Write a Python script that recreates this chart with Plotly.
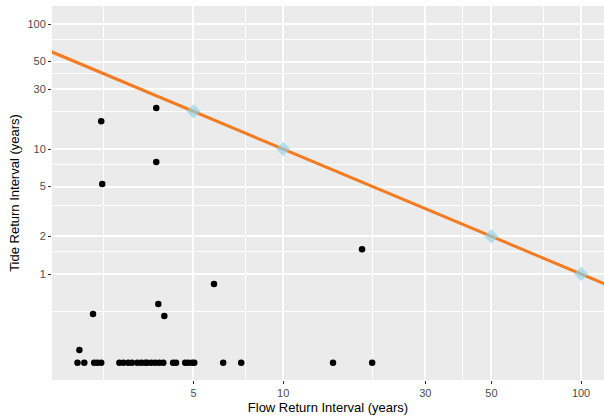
import plotly.graph_objects as go

# Observed events (flow return interval, tide return interval), years
flow_years = [2.45, 2.47, 3.75, 3.75, 18.4, 5.86, 2.07, 2.30, 3.81, 3.99,
              2.04, 2.15, 2.32, 2.38, 2.45, 2.82, 2.91, 3.02, 3.11, 3.24,
              3.34, 3.44, 3.50, 3.61, 3.72, 3.84, 3.96, 4.27, 4.37, 4.69,
              4.80, 4.95, 5.03, 6.29, 7.23, 14.7, 19.9]
tide_years = [16.7, 5.25, 21.3, 7.87, 1.58, 0.83, 0.247, 0.479, 0.575, 0.461,
              0.195, 0.195, 0.195, 0.195, 0.195, 0.195, 0.195, 0.195, 0.195, 0.195,
              0.195, 0.195, 0.195, 0.195, 0.195, 0.195, 0.195, 0.195, 0.195, 0.195,
              0.195, 0.195, 0.195, 0.195, 0.195, 0.195, 0.195]

# Joint-probability reference points (diamonds) and the curve through them
ref_flow = [5, 10, 50, 100]
ref_tide = [20, 10, 2, 1]
joint_constant = 100  # tide * flow = constant
line_flow = [1, 200]
line_tide = [joint_constant / f for f in line_flow]

x_ticks = [5, 10, 30, 50, 100]
x_minor = [2.5, 7.5, 20, 40, 75]
y_ticks = [1, 2, 5, 10, 30, 50, 100]
y_minor = [0.5, 1.5, 3.5, 7.5, 20, 40, 75]

fig = go.Figure()
fig.add_trace(go.Scatter(x=flow_years, y=tide_years, mode="markers",
                         marker=dict(color="black", size=6.5),
                         showlegend=False, hoverinfo="x+y"))
fig.add_trace(go.Scatter(x=line_flow, y=line_tide, mode="lines",
                         line=dict(color="#F47B20", width=3),
                         showlegend=False))
fig.add_trace(go.Scatter(x=ref_flow, y=ref_tide, mode="markers",
                         marker=dict(symbol="diamond", color="#8ED3EA", size=11,
                                     opacity=0.65, line=dict(width=0)),
                         showlegend=False))

axis_common = dict(
    type="log", showline=False, zeroline=False,
    gridcolor="white", gridwidth=1.6,
    ticks="outside", ticklen=3, tickwidth=1, tickcolor="#333333",
    tickfont=dict(family="Liberation Sans, Arial, sans-serif", size=11, color="#4D4D4D"),
    title_font=dict(family="Liberation Sans, Arial, sans-serif", size=13, color="black"),
)

fig.update_xaxes(**axis_common, range=[0.224, 2.077], tickmode="array",
                 tickvals=x_ticks, ticktext=[str(v) for v in x_ticks],
                 minor=dict(tickmode="array", tickvals=x_minor, showgrid=True,
                            gridcolor="white", gridwidth=0.8, ticks=""),
                 title_text="Flow Return Interval (years)", title_standoff=4)
fig.update_yaxes(**axis_common, range=[-0.848, 2.144], tickmode="array",
                 tickvals=y_ticks, ticktext=[str(v) for v in y_ticks],
                 minor=dict(tickmode="array", tickvals=y_minor, showgrid=True,
                            gridcolor="white", gridwidth=0.8, ticks=""),
                 title_text="Tide Return Interval (years)", title_standoff=4)

fig.update_layout(
    width=604, height=420,
    margin=dict(l=52, r=0, t=6, b=40),
    plot_bgcolor="#EBEBEB", paper_bgcolor="white",
    font=dict(family="Liberation Sans, Arial, sans-serif"),
)

fig.write_html("out.html")
